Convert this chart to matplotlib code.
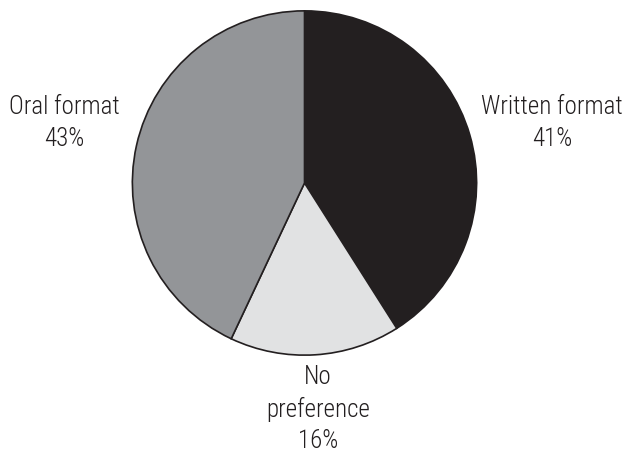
import matplotlib
matplotlib.use("Agg")
import matplotlib.pyplot as plt

categories = ["Written format", "No\npreference", "Oral format"]
shares = [41, 16, 43]
colors = ["#231f20", "#e1e2e3", "#939598"]

plt.rcParams["font.family"] = ["Roboto Condensed", "DejaVu Sans"]

W, H = 627, 468
fig = plt.figure(figsize=(W / 100, H / 100), dpi=100)

# pie placed in pixel units: centre and radius
cx, cy, r = 304.5, 183, 173
ax = fig.add_axes([(cx - r) / W, 1 - (cy + r) / H, 2 * r / W, 2 * r / H])
ax.pie(shares, colors=colors, startangle=90, counterclock=False,
       wedgeprops=dict(edgecolor="#231f20", linewidth=1.2))
ax.set_xlim(-1.005, 1.005)
ax.set_ylim(-1.005, 1.005)
ax.set_aspect("equal")
ax.axis("off")

text_color = "#231f20"
label_pos = {
    "Written format": (552, 123),
    "No\npreference": (318, 409),
    "Oral format": (64, 123),
}
for cat, val in zip(categories, shares):
    x, y = label_pos[cat]
    fig.text(x / W, 1 - y / H, f"{cat}\n{val}%", ha="center", va="center",
             fontsize=18, color=text_color, linespacing=1.38, fontweight="light")

fig.savefig("out.png", dpi=100)
